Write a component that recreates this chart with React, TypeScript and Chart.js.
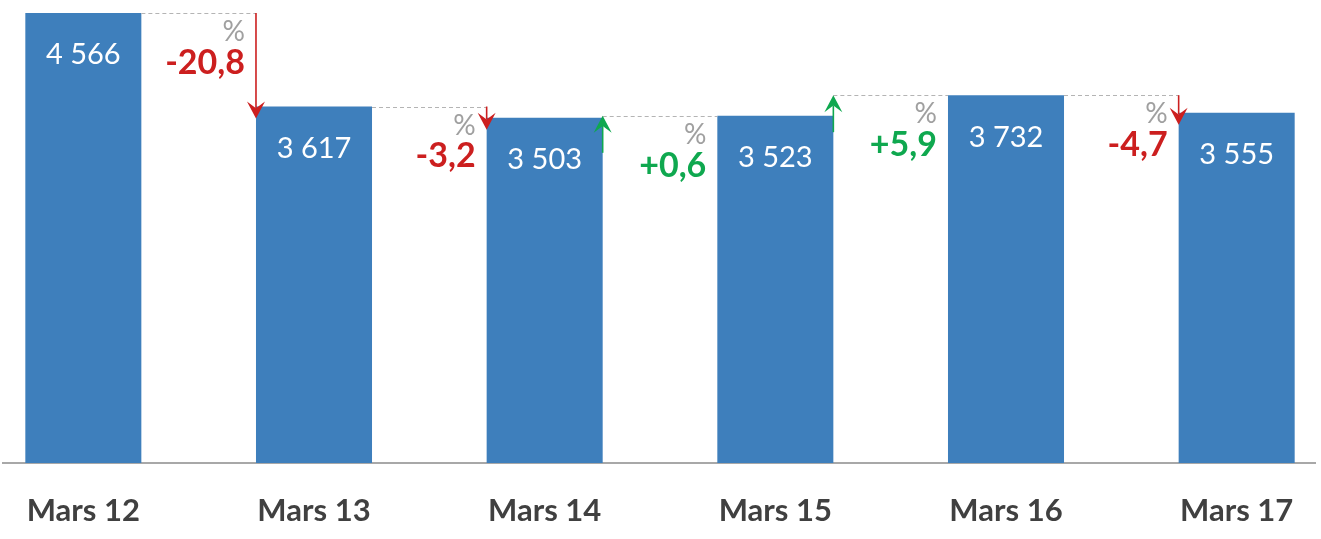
import React, { useEffect, useRef } from "react";
import { Chart, registerables } from "chart.js";

Chart.register(...registerables);

const categories = ["Mars 12", "Mars 13", "Mars 14", "Mars 15", "Mars 16", "Mars 17"];
const values = [4566, 3617, 3503, 3523, 3732, 3555];
const changeLabels = ["-20,8", "-3,2", "+0,6", "+5,9", "-4,7"];

const BAR_COLOR = "#3e7fbc";
const RED = "#cc1f1f";
const GREEN = "#0fa84f";
const FONT = "Lato, 'Open Sans', sans-serif";

const formatValue = (v: number) => {
  const s = String(v);
  return s.length > 3 ? s.slice(0, s.length - 3) + " " + s.slice(s.length - 3) : s;
};

function drawArrow(ctx: CanvasRenderingContext2D, x: number, fromY: number, tipY: number, color: string) {
  const dir = tipY > fromY ? 1 : -1;
  const headH = 17;
  const headW = 9;
  ctx.save();
  ctx.strokeStyle = color;
  ctx.fillStyle = color;
  ctx.lineWidth = 1.6;
  ctx.beginPath();
  ctx.moveTo(x, fromY);
  ctx.lineTo(x, tipY - dir * headH * 0.6);
  ctx.stroke();
  ctx.beginPath();
  ctx.moveTo(x, tipY);
  ctx.lineTo(x - headW, tipY - dir * headH);
  ctx.lineTo(x, tipY - dir * headH * 0.6);
  ctx.lineTo(x + headW, tipY - dir * headH);
  ctx.closePath();
  ctx.fill();
  ctx.restore();
}

const annotationPlugin = {
  id: "changeAnnotations",
  afterDatasetsDraw(chart: any) {
    const ctx: CanvasRenderingContext2D = chart.ctx;
    const meta = chart.getDatasetMeta(0);
    const bars = meta.data as any[];
    // value labels
    ctx.save();
    ctx.fillStyle = "#ffffff";
    ctx.font = `29px ${FONT}`;
    ctx.textAlign = "center";
    ctx.textBaseline = "middle";
    bars.forEach((b, i) => {
      ctx.fillText(formatValue(values[i]), b.x, b.y + 42);
    });
    ctx.restore();

    for (let i = 0; i < bars.length - 1; i++) {
      const prev = bars[i];
      const next = bars[i + 1];
      const prevRight = prev.x + prev.width / 2;
      const nextLeft = next.x - next.width / 2;
      const levelY = Math.min(prev.y, next.y);
      const up = values[i + 1] > values[i];

      // dashed connector
      ctx.save();
      ctx.strokeStyle = "#b4b4b4";
      ctx.lineWidth = 1;
      ctx.setLineDash([4, 3]);
      ctx.beginPath();
      ctx.moveTo(prevRight, Math.round(levelY) + 0.5);
      ctx.lineTo(nextLeft, Math.round(levelY) + 0.5);
      ctx.stroke();
      ctx.restore();

      if (up) {
        drawArrow(ctx, prevRight, next.y + 37, next.y, GREEN);
      } else {
        drawArrow(ctx, nextLeft, prev.y, next.y + 12, RED);
      }

      const textX = nextLeft - 11;
      ctx.save();
      ctx.textAlign = "right";
      ctx.textBaseline = "middle";
      ctx.fillStyle = "#a0a0a0";
      ctx.font = `28px ${FONT}`;
      ctx.fillText("%", textX, levelY + 19);
      ctx.fillStyle = up ? GREEN : RED;
      ctx.font = `bold 34px ${FONT}`;
      ctx.fillText(changeLabels[i], textX, levelY + 50);
      ctx.restore();
    }
  },
};

export default function App() {
  const canvasRef = useRef<HTMLCanvasElement | null>(null);

  useEffect(() => {
    if (!canvasRef.current) return;
    const chart = new Chart(canvasRef.current, {
      type: "bar",
      data: {
        labels: categories,
        datasets: [
          {
            data: values,
            backgroundColor: BAR_COLOR,
            borderWidth: 0,
            barPercentage: 0.503,
            categoryPercentage: 1,
          },
        ],
      },
      options: {
        animation: false,
        responsive: true,
        maintainAspectRatio: false,
        layout: { padding: { top: 13, left: 0, right: 0, bottom: 0 } },
        plugins: {
          legend: { display: false },
          tooltip: { enabled: false },
        },
        scales: {
          x: {
            grid: { display: false, drawTicks: false },
            border: { display: true, color: "#a8a8a8", width: 2 },
            ticks: {
              color: "#404040",
              font: { family: FONT, size: 31, weight: "bold" },
              padding: 29,
              maxRotation: 0,
              autoSkip: false,
            },
            afterFit: (scale: any) => {
              scale.height = 76;
            },
          },
          y: {
            display: false,
            min: 0,
            max: 4566,
          },
        },
      },
      plugins: [annotationPlugin],
    });
    return () => chart.destroy();
  }, []);

  return (
    <div
      style={{
        position: "fixed",
        left: 2,
        top: 0,
        width: 1314,
        height: 539,
        overflow: "hidden",
        background: "#ffffff",
      }}
    >
      <div style={{ position: "absolute", left: -34, top: 0, width: 1384, height: 539 }}>
        <canvas ref={canvasRef} />
      </div>
    </div>
  );
}
